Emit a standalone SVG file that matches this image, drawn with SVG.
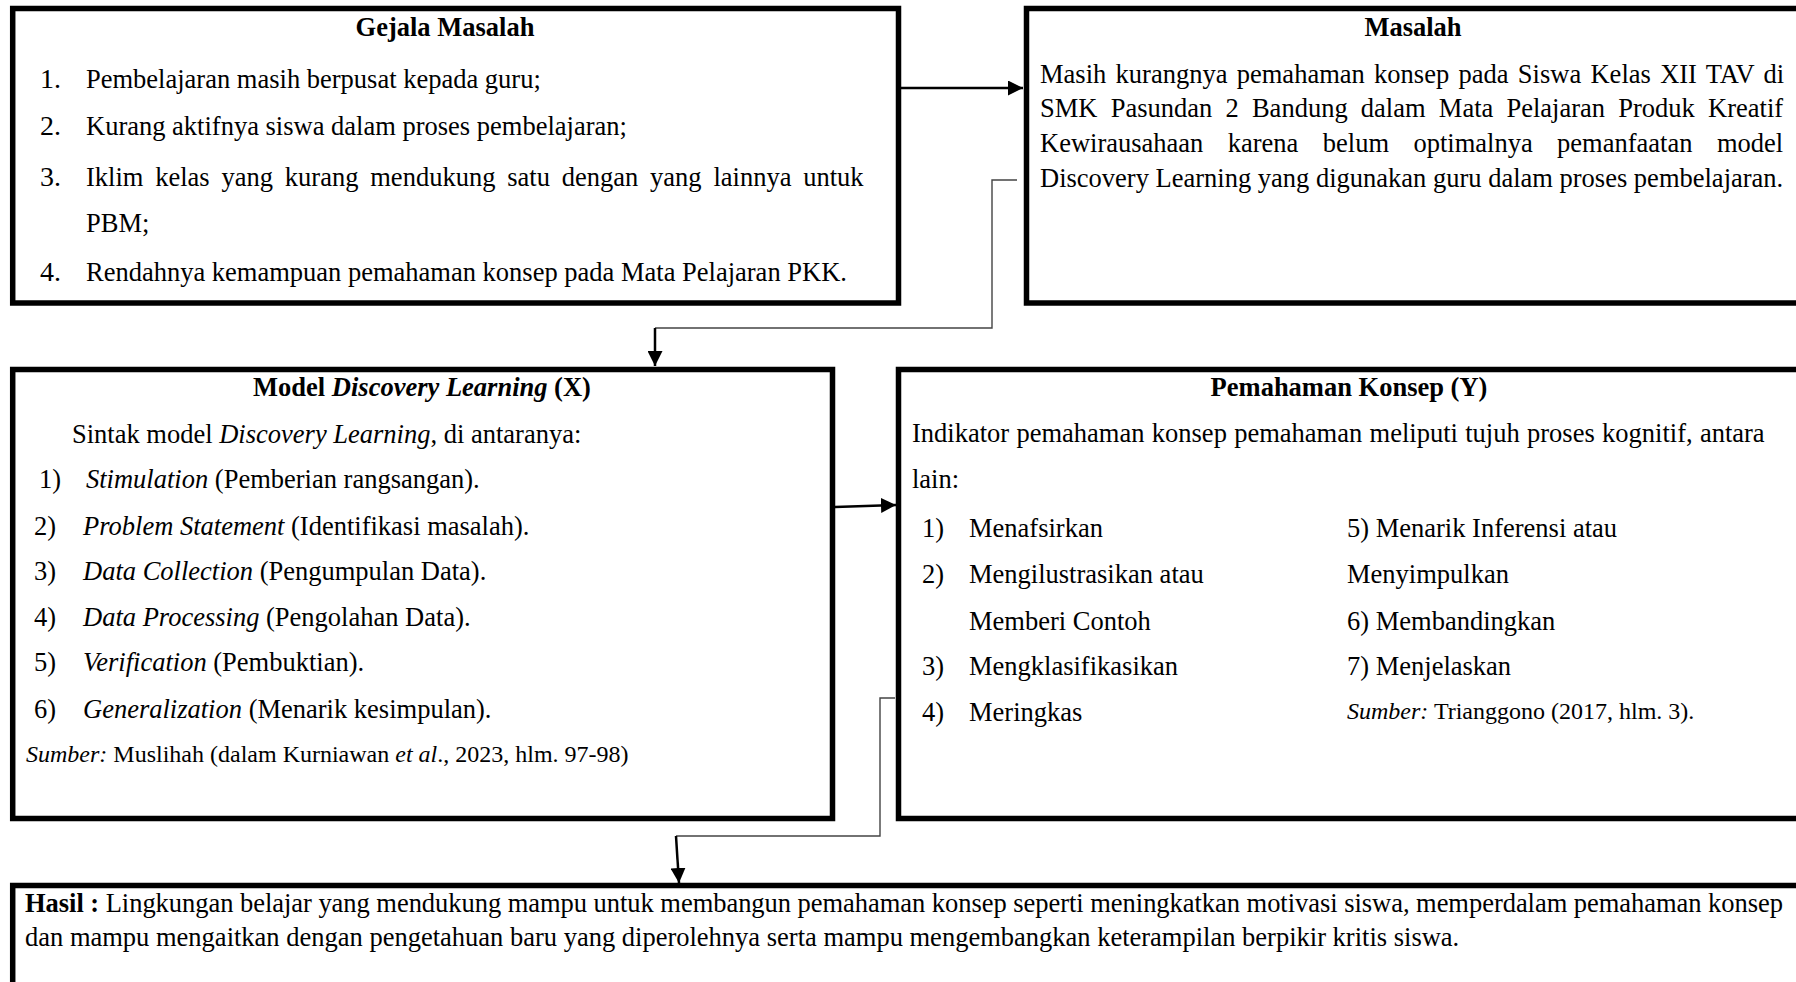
<svg xmlns="http://www.w3.org/2000/svg" width="1796" height="982" viewBox="0 0 1796 982">
<style>
text{font-family:"Liberation Serif","Times New Roman",serif;font-size:26.5px;fill:#000}
.b{font-weight:bold}
.i{font-style:italic}
.num{font-size:28px}
.src{font-size:24px}
.box{fill:#fff;stroke:#000;stroke-width:5.5}
.thick{fill:none;stroke:#000;stroke-width:2.5}
.thin{fill:none;stroke:#444;stroke-width:1.4}
</style>
<defs>
<marker id="ah" viewBox="0 0 10 10" refX="10" refY="5" markerWidth="15" markerHeight="15" markerUnits="userSpaceOnUse" orient="auto">
<path d="M0,0 L10,5 L0,10 z" fill="#000"/>
</marker>
</defs>
<rect width="1796" height="982" fill="#fff"/>

<g id="gejala">
<rect class="box" x="12.7" y="8.5" width="885.8" height="294.5"/>
<text class="b" x="445" y="36" text-anchor="middle">Gejala Masalah</text>
<text class="num" x="40" y="88">1.</text>
<text x="86" y="88">Pembelajaran masih berpusat kepada guru;</text>
<text class="num" x="40" y="135">2.</text>
<text x="86" y="135">Kurang aktifnya siswa dalam proses pembelajaran;</text>
<text class="num" x="40" y="186">3.</text>
<text x="86" y="186" word-spacing="5.2">Iklim kelas yang kurang mendukung satu dengan yang lainnya untuk</text>
<text x="86" y="232">PBM;</text>
<text class="num" x="40" y="281">4.</text>
<text x="86" y="281">Rendahnya kemampuan pemahaman konsep pada Mata Pelajaran PKK.</text>
</g>

<g id="masalah">
<rect class="box" x="1026.5" y="8.5" width="790" height="294.5"/>
<text class="b" x="1413" y="36" text-anchor="middle">Masalah</text>
<text x="1040" y="83" word-spacing="2.7">Masih kurangnya pemahaman konsep pada Siswa Kelas XII TAV di</text>
<text x="1040" y="117" word-spacing="6.6">SMK Pasundan 2 Bandung dalam Mata Pelajaran Produk Kreatif</text>
<text x="1040" y="152" word-spacing="17.8">Kewirausahaan karena belum optimalnya pemanfaatan model</text>
<text x="1040" y="187">Discovery Learning yang digunakan guru dalam proses pembelajaran.</text>
</g>

<g id="model">
<rect class="box" x="12.7" y="369.5" width="819.8" height="449"/>
<text class="b" x="422" y="396" text-anchor="middle">Model <tspan class="i">Discovery Learning</tspan> (X)</text>
<text x="72" y="443">Sintak model <tspan class="i">Discovery Learning</tspan>, di antaranya:</text>
<text x="39" y="488">1)</text>
<text x="86" y="488"><tspan class="i">Stimulation</tspan> (Pemberian rangsangan).</text>
<text x="34" y="535">2)</text>
<text x="83" y="535"><tspan class="i">Problem Statement</tspan> (Identifikasi masalah).</text>
<text x="34" y="580">3)</text>
<text x="83" y="580"><tspan class="i">Data Collection</tspan> (Pengumpulan Data).</text>
<text x="34" y="626">4)</text>
<text x="83" y="626"><tspan class="i">Data Processing</tspan> (Pengolahan Data).</text>
<text x="34" y="671">5)</text>
<text x="83" y="671"><tspan class="i">Verification</tspan> (Pembuktian).</text>
<text x="34" y="718">6)</text>
<text x="83" y="718"><tspan class="i">Generalization</tspan> (Menarik kesimpulan).</text>
<text class="src" x="26" y="762"><tspan class="i">Sumber:</tspan> Muslihah (dalam Kurniawan <tspan class="i">et al</tspan>., 2023, hlm. 97-98)</text>
</g>

<g id="pemahaman">
<rect class="box" x="898.5" y="369.5" width="920" height="449"/>
<text class="b" x="1349" y="396" text-anchor="middle">Pemahaman Konsep (Y)</text>
<text x="912" y="442" word-spacing="0.7">Indikator pemahaman konsep pemahaman meliputi tujuh proses kognitif, antara</text>
<text x="912" y="488">lain:</text>
<text x="922" y="537">1)</text>
<text x="969" y="537">Menafsirkan</text>
<text x="922" y="583">2)</text>
<text x="969" y="583">Mengilustrasikan atau</text>
<text x="969" y="630">Memberi Contoh</text>
<text x="922" y="675">3)</text>
<text x="969" y="675">Mengklasifikasikan</text>
<text x="922" y="721">4)</text>
<text x="969" y="721">Meringkas</text>
<text x="1347" y="537">5) Menarik Inferensi atau</text>
<text x="1347" y="583">Menyimpulkan</text>
<text x="1347" y="630">6) Membandingkan</text>
<text x="1347" y="675">7) Menjelaskan</text>
<text class="src" x="1347" y="719"><tspan class="i">Sumber:</tspan> Trianggono (2017, hlm. 3).</text>
</g>

<g id="hasil">
<rect class="box" x="12.7" y="885.5" width="1810" height="120"/>
<text x="25" y="912" textLength="1758" lengthAdjust="spacing"><tspan class="b">Hasil :</tspan> Lingkungan belajar yang mendukung mampu untuk membangun pemahaman konsep seperti meningkatkan motivasi siswa, memperdalam pemahaman konsep</text>
<text x="25" y="946">dan mampu mengaitkan dengan pengetahuan baru yang diperolehnya serta mampu mengembangkan keterampilan berpikir kritis siswa.</text>
</g>

<g id="connectors">
<line class="thick" x1="901" y1="88" x2="1023" y2="88" marker-end="url(#ah)"/>
<polyline class="thin" points="1017,180 992,180 992,328 655,328"/>
<line class="thick" x1="655" y1="328" x2="655" y2="366" stroke-width="2" marker-end="url(#ah)"/>
<line class="thick" x1="835" y1="507" x2="896" y2="505" marker-end="url(#ah)"/>
<polyline class="thin" points="895,698 880,698 880,836 676,836"/>
<line class="thick" x1="676" y1="836" x2="679" y2="883" stroke-width="2" marker-end="url(#ah)"/>
</g>
</svg>
